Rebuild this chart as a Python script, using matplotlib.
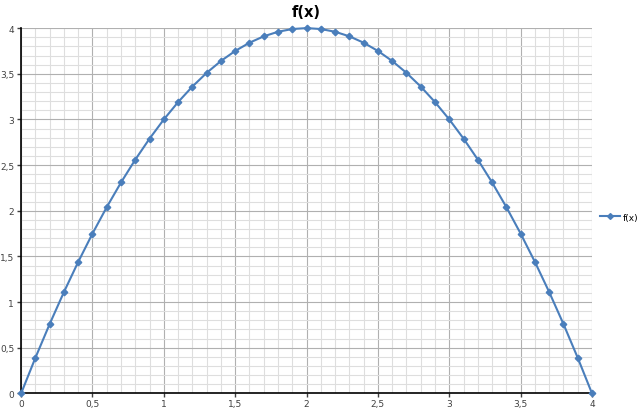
import numpy as np
import matplotlib
matplotlib.use("Agg")
from matplotlib import pyplot as plt
from matplotlib.ticker import MultipleLocator, FuncFormatter

# values, x every 0.1 from 0 to 4
x_vals = [0.0, 0.1, 0.2, 0.3, 0.4, 0.5, 0.6, 0.7, 0.8, 0.9, 1.0,
          1.1, 1.2, 1.3, 1.4, 1.5, 1.6, 1.7, 1.8, 1.9, 2.0,
          2.1, 2.2, 2.3, 2.4, 2.5, 2.6, 2.7, 2.8, 2.9, 3.0,
          3.1, 3.2, 3.3, 3.4, 3.5, 3.6, 3.7, 3.8, 3.9, 4.0]
fx_vals = [0.0, 0.39, 0.76, 1.11, 1.44, 1.75, 2.04, 2.31, 2.56, 2.79, 3.0,
           3.19, 3.36, 3.51, 3.64, 3.75, 3.84, 3.91, 3.96, 3.99, 4.0,
           3.99, 3.96, 3.91, 3.84, 3.75, 3.64, 3.51, 3.36, 3.19, 3.0,
           2.79, 2.56, 2.31, 2.04, 1.75, 1.44, 1.11, 0.76, 0.39, 0.0]

blue = '#4a7ebb'

fig = plt.figure(figsize=(6.4, 4.1), dpi=100)
ax = fig.add_axes([0.033, 0.038, 0.892, 0.891])

line, = ax.plot(x_vals, fx_vals, color=blue, lw=1.5, marker='D', ms=3.3,
                label='f(x)', zorder=5, clip_on=False)

ax.set_xlim(0, 4)
ax.set_ylim(0, 4)
ax.xaxis.set_major_locator(MultipleLocator(0.5))
ax.yaxis.set_major_locator(MultipleLocator(0.5))
ax.xaxis.set_minor_locator(MultipleLocator(0.1))
ax.yaxis.set_minor_locator(MultipleLocator(0.1))

comma = FuncFormatter(lambda v, p: ('%g' % v).replace('.', ','))
ax.xaxis.set_major_formatter(comma)
ax.yaxis.set_major_formatter(comma)

ax.grid(which='major', color='#b0b0b0', lw=0.8)
ax.grid(which='minor', color='#dedede', lw=0.8)
ax.set_axisbelow(True)

for s in ['top', 'right']:
    ax.spines[s].set_visible(False)
for s in ['left', 'bottom']:
    ax.spines[s].set_color('black')
    ax.spines[s].set_linewidth(1.2)

ax.tick_params(which='major', direction='out', length=3, width=1, labelsize=6.5,
               colors='#404040')
ax.tick_params(axis='x', pad=1)
ax.tick_params(axis='y', pad=2)
ax.tick_params(which='minor', length=0)

ax.set_title('f(x)', fontsize=10.5, fontweight='bold', pad=9)

fig.legend(handles=[line], loc='center left', bbox_to_anchor=(0.925, 0.468),
           frameon=False, fontsize=6.5, handlelength=2.2, handletextpad=0.3,
           markerscale=0.9)

fig.savefig('out.png', dpi=100)
